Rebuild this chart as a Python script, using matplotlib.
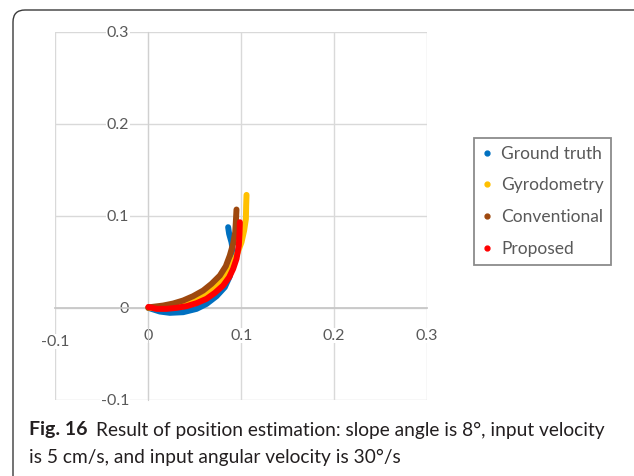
import matplotlib
matplotlib.use('Agg')
import matplotlib.pyplot as plt
from matplotlib.lines import Line2D
from matplotlib.patches import FancyBboxPatch
from matplotlib.transforms import ScaledTranslation

# trajectories (x [m], y [m])
truth_x = [0.000, 0.0034, 0.0124, 0.0231, 0.0375, 0.0519, 0.0626, 0.0734, 0.0823,
           0.0877, 0.0906, 0.0913, 0.0895, 0.087, 0.0859]
truth_y = [0.000, -0.0011, -0.004, -0.0054, -0.0047, -0.0011, 0.0043, 0.0127, 0.0225,
           0.0344, 0.0478, 0.0605, 0.0714, 0.0804, 0.0877]

gyro_x = [0.000, 0.0052, 0.0196, 0.0339, 0.0482, 0.0626, 0.0734, 0.0805, 0.0877,
          0.0949, 0.1003, 0.1031, 0.105, 0.1053, 0.1057]
gyro_y = [0.000, -0.0003, -0.0003, 0.0018, 0.0062, 0.0141, 0.0243, 0.0323, 0.0424,
          0.0569, 0.0714, 0.084, 0.0967, 0.1112, 0.1228]

conv_x = [0.000, 0.0016, 0.0159, 0.0267, 0.0375, 0.0482, 0.059, 0.068, 0.077,
          0.0834, 0.0877, 0.0913, 0.0935, 0.0942, 0.0949]
conv_y = [0.000, 0.0007, 0.0025, 0.0047, 0.0080, 0.0127, 0.0188, 0.0261, 0.0351,
          0.0453, 0.0569, 0.0696, 0.0822, 0.0931, 0.1069]

prop_x = [0.000, 0.0088, 0.0196, 0.0303, 0.0411, 0.0519, 0.0626, 0.0716, 0.0805,
          0.087, 0.0913, 0.0949, 0.0974, 0.0981, 0.0985]
prop_y = [0.001, -0.0011, -0.0011, 0.000, 0.0018, 0.0051, 0.0098, 0.0163, 0.0243,
          0.0333, 0.0424, 0.0533, 0.0677, 0.0804, 0.0931]

series_names = ['Ground truth', 'Gyrodometry', 'Conventional', 'Proposed']
series_colors = ['#0070C0', '#FFC000', '#9E480E', '#FF0000']

ticks = [-0.1, 0, 0.1, 0.2, 0.3]
tick_labels = ['-0.1', '0', '0.1', '0.2', '0.3']

caption_bold = 'Fig. 16'
caption_1 = 'Result of position estimation: slope angle is 8\u00b0, input velocity'
caption_2 = 'is 5 cm/s, and input angular velocity is 30\u00b0/s'


def main():
    plt.rcParams['font.family'] = ['Lato', 'DejaVu Sans']
    fig = plt.figure(figsize=(6.34, 4.76), dpi=100)

    # rounded frame around the figure panel
    frame = FancyBboxPatch((0.13, -0.3), 6.6, 4.96, boxstyle='round,pad=0,rounding_size=0.12',
                           transform=fig.dpi_scale_trans, facecolor='none',
                           edgecolor='#3a3a3a', linewidth=1.0, zorder=-1)
    fig.patches.append(frame)

    ax = fig.add_axes([0.0875, 0.160, 0.586, 0.773])
    ax.set_facecolor('none')

    data = [(truth_x, truth_y), (gyro_x, gyro_y), (conv_x, conv_y), (prop_x, prop_y)]
    for (xs, ys), c in zip(data, series_colors):
        ax.plot(xs, ys, color=c, lw=4.3, solid_capstyle='round', solid_joinstyle='round', zorder=3)

    ax.set_xlim(-0.1, 0.3)
    ax.set_ylim(-0.1, 0.3)
    ax.set_xticks(ticks)
    ax.set_xticklabels(tick_labels)
    ax.set_yticks(ticks)
    ax.set_yticklabels(tick_labels)
    ax.grid(True, color='#D9D9D9', lw=1.0)
    for side in ['top', 'right']:
        ax.spines[side].set_visible(False)
    ax.spines['left'].set_position(('data', 0))
    ax.spines['bottom'].set_position(('data', 0))
    ax.spines['left'].set_color('#D0D0D0')
    ax.spines['bottom'].set_color('#C8C8C8')
    ax.spines['bottom'].set_linewidth(1.3)
    ax.tick_params(length=0, labelsize=11.5, labelcolor='#595959')
    ax.tick_params(axis='y', pad=14)
    ax.tick_params(axis='x', pad=15)

    handles = [Line2D([], [], ls='none', marker='o', ms=3.5, color=c) for c in series_colors]
    leg = fig.legend(handles, series_names, loc='upper left',
                     bbox_to_anchor=(474 / 634, 1 - 138 / 476), borderaxespad=0,
                     fancybox=False, edgecolor='#6e6e6e', fontsize=12.5,
                     handlelength=0.6, handletextpad=0.5, labelspacing=0.9,
                     borderpad=0.45, labelcolor='#595959')
    leg.get_frame().set_linewidth(1.3)

    # caption
    renderer = fig.canvas.get_renderer()
    t = fig.text(29 / 634, 1 - 430 / 476, caption_bold, fontsize=14, fontweight='bold',
                 va='center', ha='left', color='#231f20')
    bb = t.get_window_extent(renderer)
    fig.text((bb.x1 + 8) / 634, 1 - 430 / 476, caption_1, fontsize=13.8,
             va='center', ha='left', color='#231f20')
    fig.text(29 / 634, 1 - 457 / 476, caption_2, fontsize=13.8,
             va='center', ha='left', color='#231f20')

    # white boxes behind tick labels so the gridlines stop at the text
    fig.canvas.draw()
    for tick in ax.xaxis.get_major_ticks() + ax.yaxis.get_major_ticks():
        tick.label1.set_bbox(dict(facecolor='white', edgecolor='none', pad=0.5))
    # the -0.1 label on the x axis sits a little lower
    lbl = ax.xaxis.get_major_ticks()[0].label1
    lbl.set_transform(lbl.get_transform() + ScaledTranslation(0, -6 / 100, fig.dpi_scale_trans))

    fig.savefig('out.png', dpi=100)


if __name__ == '__main__':
    main()
